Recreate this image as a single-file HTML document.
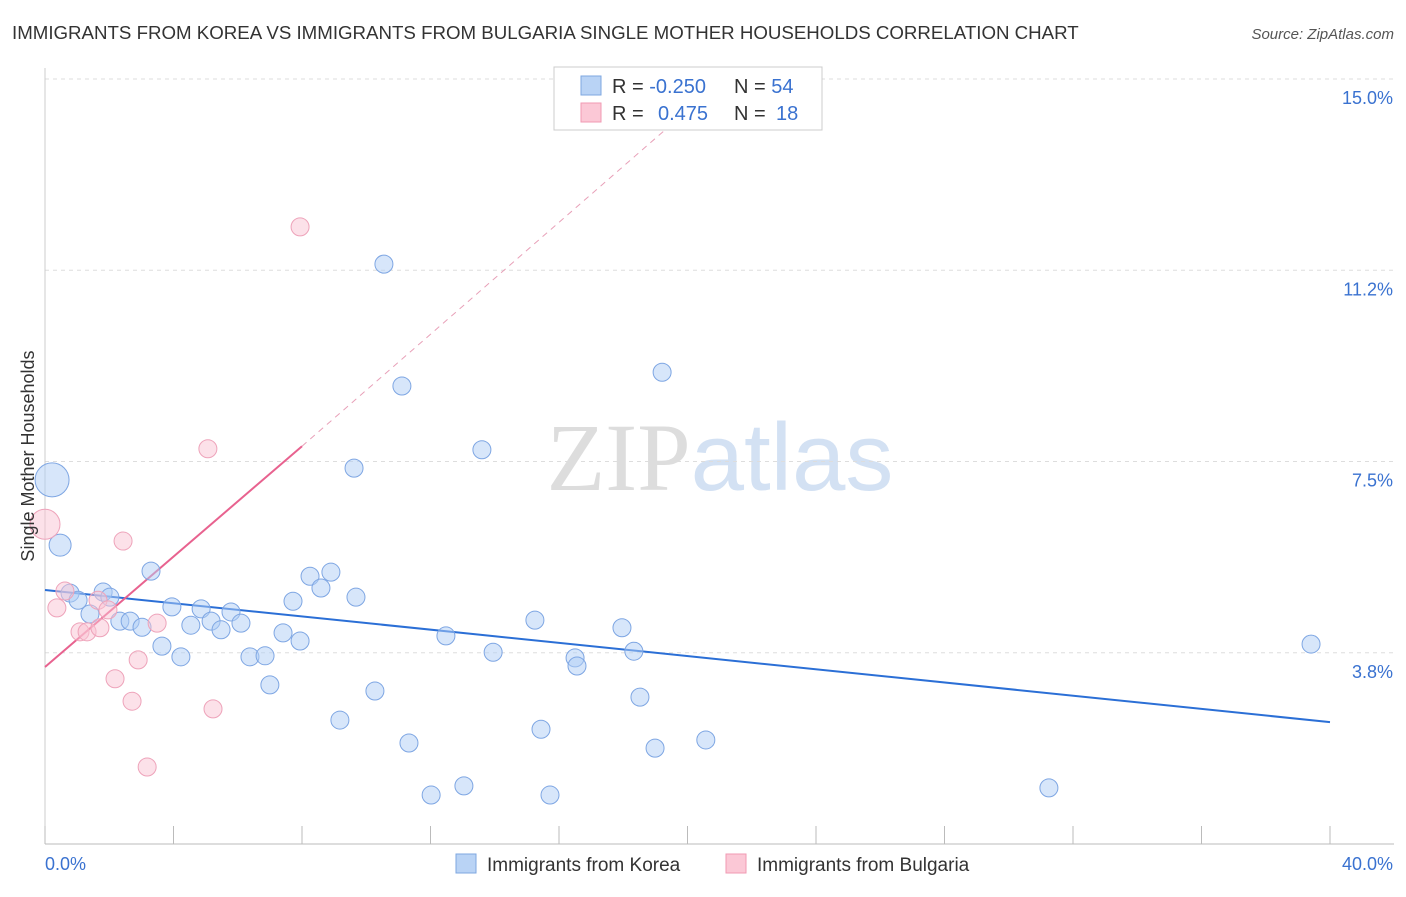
<!DOCTYPE html>
<html><head><meta charset="utf-8"><style>
body{margin:0;background:#fff;font-family:"Liberation Sans",sans-serif}
svg text{font-family:"Liberation Sans",sans-serif}
</style></head><body>
<svg id="chart" width="1406" height="892" xmlns="http://www.w3.org/2000/svg">
<text x="12" y="39" font-size="18.7" fill="#333">IMMIGRANTS FROM KOREA VS IMMIGRANTS FROM BULGARIA SINGLE MOTHER HOUSEHOLDS CORRELATION CHART</text>
<text x="1394" y="39" font-size="15" fill="#555" text-anchor="end" font-style="italic">Source: ZipAtlas.com</text>
<text x="720" y="490" font-size="96" text-anchor="middle"><tspan fill="#ddd" font-family="Liberation Serif">ZIP</tspan><tspan fill="#d3e1f3">atlas</tspan></text>
<g id="grid"></g><g id="axes"></g><g id="lines"></g><g id="points"></g>
<text transform="translate(34,456) rotate(-90)" font-size="18" fill="#333" text-anchor="middle">Single Mother Households</text>
<g>
<rect x="554" y="67" width="268" height="63" fill="#fff" stroke="#ccc"/>
<rect x="581" y="76" width="20" height="19" fill="#b9d3f5" stroke="#7ea7e0"/>
<rect x="581" y="103" width="20" height="19" fill="#fbc8d6" stroke="#f09ab3"/>
<text x="612" y="93" font-size="20" fill="#333">R = <tspan fill="#3a72d0">-0.250</tspan></text>
<text x="734" y="93" font-size="20" fill="#333">N = <tspan fill="#3a72d0">54</tspan></text>
<text x="612" y="120" font-size="20" fill="#333">R = <tspan fill="#3a72d0" x="658">0.475</tspan></text>
<text x="734" y="120" font-size="20" fill="#333">N = <tspan fill="#3a72d0" x="776">18</tspan></text>
</g>
<g>
<rect x="456" y="854" width="20" height="19" fill="#b9d3f5" stroke="#7ea7e0"/>
<text x="487" y="871" font-size="19" fill="#333">Immigrants from Korea</text>
<rect x="726" y="854" width="20" height="19" fill="#fbc8d6" stroke="#f09ab3"/>
<text x="757" y="871" font-size="19" fill="#333">Immigrants from Bulgaria</text>
</g>
</svg>
<script>
const yTicks=[3.75,7.5,11.25,15];
const yTickLabels=["3.8%","7.5%","11.2%","15.0%"];
const xTicks=[0,4,8,12,16,20,24,28,32,36,40];
const koreaX=[0.22,0.47,0.78,1.03,1.40,1.81,2.02,2.33,2.65,3.02,3.30,3.64,3.95,4.23,4.54,4.86,5.17,5.48,5.79,6.10,6.38,6.85,7.00,7.41,7.72,7.94,8.25,8.59,8.90,9.18,9.62,9.68,10.27,10.55,11.11,11.33,12.02,12.48,13.04,13.60,13.95,15.25,15.44,15.72,16.50,16.56,17.96,18.33,18.52,18.99,19.21,20.57,31.25,39.41];
const koreaY=[7.14,5.86,4.92,4.78,4.51,4.94,4.84,4.37,4.37,4.25,5.35,3.88,4.65,3.67,4.29,4.61,4.37,4.20,4.55,4.33,3.67,3.69,3.12,4.14,4.76,3.98,5.25,5.02,5.33,2.43,7.37,4.84,3.00,11.37,8.98,1.98,0.96,4.08,1.14,7.73,3.76,4.39,2.25,0.96,3.65,3.49,4.24,3.78,2.88,1.88,9.25,2.04,1.10,3.92];
const koreaSize=[17,11,9,9,9,9,9,9,9,9,9,9,9,9,9,9,9,9,9,9,9,9,9,9,9,9,9,9,9,9,9,9,9,9,9,9,9,9,9,9,9,9,9,9,9,9,9,9,9,9,9,9,9,9];
const bulgX=[0,0.37,0.62,1.09,1.31,1.71,1.65,1.96,2.18,2.43,2.71,2.90,3.18,3.49,5.07,5.23,7.94];
const bulgY=[6.27,4.63,4.96,4.16,4.16,4.24,4.78,4.59,3.24,5.94,2.80,3.61,1.51,4.33,7.75,2.65,12.10];
const bulgSize=[15,9,9,9,9,9,9,9,9,9,9,9,9,9,9,9,9];
const koreaTrend=[0,4.98,40,2.39];
const bulgTrend=[0,3.47,8,7.80,19.3,14.0];
const NS="http://www.w3.org/2000/svg";
const X=v=>45+v/40*1285, Y=v=>844-v/15*765;
function mk(t,a,p){const e=document.createElementNS(NS,t);for(const k in a)e.setAttribute(k,a[k]);document.getElementById(p).appendChild(e);return e;}
yTicks.forEach((v,i)=>{
 const l=mk('line',{x1:45,x2:1394,y1:Y(v),y2:Y(v),stroke:'#ddd','stroke-dasharray':'4,4'},'grid');
 
 const t=mk('text',{x:1393,y:Y(v)+25,'font-size':18,fill:'#3a72d0','text-anchor':'end'},'axes');t.textContent=yTickLabels[i];
 
});
const ax=mk('line',{x1:45,x2:1394,y1:844,y2:844,stroke:'#bbb'},'axes');

const ay=mk('line',{x1:45,x2:45,y1:68,y2:844,stroke:'#ccc'},'axes');

xTicks.forEach(v=>{const l=mk('line',{x1:X(v),x2:X(v),y1:826,y2:844,stroke:'#bbb'},'axes');
 });
[["0.0%",45,'start'],["40.0%",1393,'end']].forEach(a=>{const t=mk('text',{x:a[1],y:870,'font-size':18,fill:'#3a72d0','text-anchor':a[2]},'axes');t.textContent=a[0];
 });
koreaX.forEach((v,i)=>{const c=mk('circle',{cx:X(v),cy:Y(koreaY[i]),r:koreaSize[i],fill:'rgba(175,205,245,0.5)',stroke:'#7ea6e3','stroke-width':1},'points');
 });
bulgX.forEach((v,i)=>{const c=mk('circle',{cx:X(v),cy:Y(bulgY[i]),r:bulgSize[i],fill:'rgba(250,195,212,0.5)',stroke:'#eea3ba','stroke-width':1},'points');
 });
const kt=mk('line',{x1:X(koreaTrend[0]),y1:Y(koreaTrend[1]),x2:X(koreaTrend[2]),y2:Y(koreaTrend[3]),stroke:'#2b6fd6','stroke-width':2},'lines');

const bt=mk('line',{x1:X(bulgTrend[0]),y1:Y(bulgTrend[1]),x2:X(bulgTrend[2]),y2:Y(bulgTrend[3]),stroke:'#e8628f','stroke-width':2},'lines');

const bd=mk('line',{x1:X(bulgTrend[2]),y1:Y(bulgTrend[3]),x2:X(bulgTrend[4]),y2:Y(bulgTrend[5]),stroke:'#e8a0b8','stroke-width':1,'stroke-dasharray':'6,5'},'lines');

</script>
</body></html>
